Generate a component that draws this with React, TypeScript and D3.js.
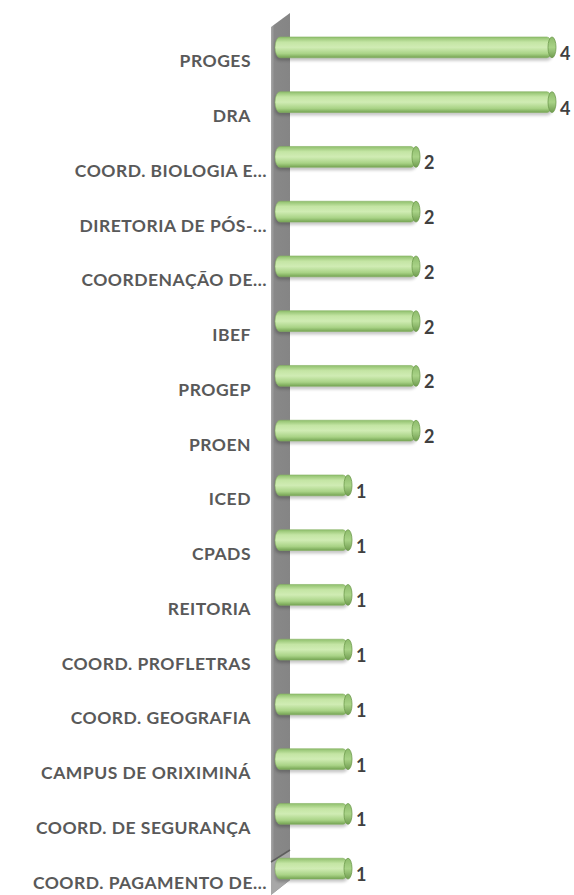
import * as d3 from "d3";

const categories = [
  "PROGES",
  "DRA",
  "COORD. BIOLOGIA E…",
  "DIRETORIA DE PÓS-…",
  "COORDENAÇÃO DE…",
  "IBEF",
  "PROGEP",
  "PROEN",
  "ICED",
  "CPADS",
  "REITORIA",
  "COORD. PROFLETRAS",
  "COORD. GEOGRAFIA",
  "CAMPUS DE ORIXIMINÁ",
  "COORD. DE SEGURANÇA",
  "COORD. PAGAMENTO DE…",
];
const values = [4, 4, 2, 2, 2, 2, 2, 2, 1, 1, 1, 1, 1, 1, 1, 1];

const W = 574;
const H = 895;
const FONT = "Lato, 'Open Sans', sans-serif";

export default function App() {
  const y = d3.scaleBand<string>().domain(categories).range([20, 896]).paddingInner(0.62).paddingOuter(0.31);
  const x = d3.scaleLinear().domain([0, 4]).range([280, 552]);
  const bh = y.bandwidth();
  const wallL = 271;
  const wallR = 290;

  return (
    <svg width={W} height={H} style={{ position: "absolute", left: 0, top: 0 }}>
      <defs>
        <linearGradient id="cyl" x1="0" y1="0" x2="0" y2="1">
          <stop offset="0" stopColor="#8fbf6c" />
          <stop offset="0.25" stopColor="#c4e5a4" />
          <stop offset="0.5" stopColor="#d0ecb4" />
          <stop offset="0.8" stopColor="#a9d386" />
          <stop offset="1" stopColor="#74a352" />
        </linearGradient>
        <linearGradient id="cap" x1="0" y1="0" x2="0" y2="1">
          <stop offset="0" stopColor="#8dbb6b" />
          <stop offset="0.5" stopColor="#a9d387" />
          <stop offset="1" stopColor="#6f9c4f" />
        </linearGradient>
        <linearGradient id="wall" x1="0" y1="0" x2="1" y2="0">
          <stop offset="0" stopColor="#a8a8a8" />
          <stop offset="0.18" stopColor="#888888" />
          <stop offset="1" stopColor="#858585" />
        </linearGradient>
        <filter id="shadow" x="-10%" y="-50%" width="120%" height="200%">
          <feGaussianBlur stdDeviation="1.5" />
        </filter>
      </defs>

      {/* side wall */}
      <polygon
        points={`${wallL},27 ${wallR},13 ${wallR},880 ${wallL},895`}
        fill="url(#wall)"
      />
      {/* floor */}
      <polygon
        points={`${wallL},862 ${wallR},850 ${wallR},880 ${wallL},895`}
        fill="#a8a8a8"
      />
      <line x1={wallL} y1={862} x2={wallR} y2={850} stroke="#5e5e5e" strokeWidth={1.5} />

      {categories.map((c, i) => {
        const y0 = y(c)!;
        const x0 = x(0) - 5;
        const x1 = x(values[i]);
        return (
          <g key={c}>
            <rect x={x0} y={y0 + 3} width={x1 - x0} height={bh} rx={5} fill="#000" opacity={0.22} filter="url(#shadow)" />
            <rect x={x0} y={y0} width={x1 - x0} height={bh} rx={5} ry={bh / 2} fill="url(#cyl)" stroke="#86b163" strokeWidth={0.6} />
            <ellipse cx={x1} cy={y0 + bh / 2} rx={4} ry={bh / 2} fill="url(#cap)" stroke="#6d9a4c" strokeWidth={0.8} />
            <text
              x={x1 + 8}
              y={y0 + bh / 2 + 12.5}
              fontFamily={FONT}
              fontWeight="bold"
              fontSize={18}
              fill="#404040"
            >
              {values[i]}
            </text>
            <text
              x={c.endsWith("…") ? 267 : 251}
              y={y0 + bh / 2 + 20}
              textAnchor="end"
              fontFamily={FONT}
              fontWeight="bold"
              fontSize={17.5}
              letterSpacing={0.5}
              fill="#595959"
            >
              {c}
            </text>
          </g>
        );
      })}
    </svg>
  );
}
